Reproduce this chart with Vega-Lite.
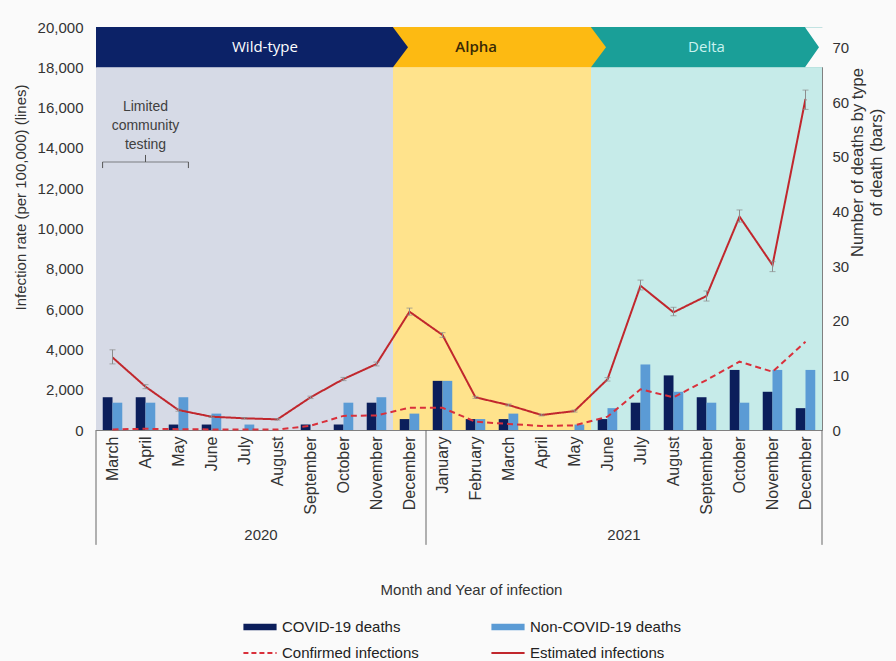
{
  "$schema": "https://vega.github.io/schema/vega-lite/v6.json",
  "width": 726,
  "height": 403,
  "autosize": {"type": "none"},
  "padding": {"left": 96, "top": 27, "right": 74, "bottom": 231},
  "background": "#fafafa",
  "config": {
    "view": {"stroke": null},
    "font": "Liberation Sans",
    "axis": {"labelFont": "Liberation Sans", "titleFont": "Liberation Sans", "labelColor": "#333333", "titleColor": "#333333", "titleFontWeight": "normal", "grid": false, "ticks": false, "domainColor": "#808080", "zindex": 1}
  },
  "datasets": {
    "months": [
      {"period": "March 2020", "variant": "Wild-type", "lo": 3280, "hi": 3980},
      {"period": "April 2020", "variant": "Wild-type", "lo": 2050, "hi": 2250},
      {"period": "May 2020", "variant": "Wild-type", "lo": 930, "hi": 1050},
      {"period": "June 2020", "variant": "Wild-type", "lo": 620, "hi": 700},
      {"period": "July 2020", "variant": "Wild-type", "lo": 540, "hi": 620},
      {"period": "August 2020", "variant": "Wild-type", "lo": 490, "hi": 570},
      {"period": "September 2020", "variant": "Wild-type", "lo": 1560, "hi": 1680},
      {"period": "October 2020", "variant": "Wild-type", "lo": 2450, "hi": 2610},
      {"period": "November 2020", "variant": "Wild-type", "lo": 3180, "hi": 3370},
      {"period": "December 2020", "variant": "Alpha", "lo": 5700, "hi": 6050},
      {"period": "January 2021", "variant": "Alpha", "lo": 4600, "hi": 4830},
      {"period": "February 2021", "variant": "Alpha", "lo": 1570, "hi": 1670},
      {"period": "March 2021", "variant": "Alpha", "lo": 1190, "hi": 1290},
      {"period": "April 2021", "variant": "Alpha", "lo": 700, "hi": 790},
      {"period": "May 2021", "variant": "Alpha", "lo": 890, "hi": 990},
      {"period": "June 2021", "variant": "Delta", "lo": 2430, "hi": 2600},
      {"period": "July 2021", "variant": "Delta", "lo": 6950, "hi": 7440},
      {"period": "August 2021", "variant": "Delta", "lo": 5670, "hi": 6090},
      {"period": "September 2021", "variant": "Delta", "lo": 6400, "hi": 6900},
      {"period": "October 2021", "variant": "Delta", "lo": 10320, "hi": 10920},
      {"period": "November 2021", "variant": "Delta", "lo": 7860, "hi": 8350},
      {"period": "December 2021", "variant": "Delta", "lo": 15910, "hi": 16870}
    ],
    "lines": [
      {"period": "March 2020", "type": "Estimated infections", "rate": 3600},
      {"period": "April 2020", "type": "Estimated infections", "rate": 2150},
      {"period": "May 2020", "type": "Estimated infections", "rate": 990},
      {"period": "June 2020", "type": "Estimated infections", "rate": 660},
      {"period": "July 2020", "type": "Estimated infections", "rate": 580},
      {"period": "August 2020", "type": "Estimated infections", "rate": 530},
      {"period": "September 2020", "type": "Estimated infections", "rate": 1620},
      {"period": "October 2020", "type": "Estimated infections", "rate": 2530},
      {"period": "November 2020", "type": "Estimated infections", "rate": 3275},
      {"period": "December 2020", "type": "Estimated infections", "rate": 5870},
      {"period": "January 2021", "type": "Estimated infections", "rate": 4715},
      {"period": "February 2021", "type": "Estimated infections", "rate": 1620},
      {"period": "March 2021", "type": "Estimated infections", "rate": 1240},
      {"period": "April 2021", "type": "Estimated infections", "rate": 745},
      {"period": "May 2021", "type": "Estimated infections", "rate": 940},
      {"period": "June 2021", "type": "Estimated infections", "rate": 2515},
      {"period": "July 2021", "type": "Estimated infections", "rate": 7160},
      {"period": "August 2021", "type": "Estimated infections", "rate": 5840},
      {"period": "September 2021", "type": "Estimated infections", "rate": 6650},
      {"period": "October 2021", "type": "Estimated infections", "rate": 10590},
      {"period": "November 2021", "type": "Estimated infections", "rate": 8190},
      {"period": "December 2021", "type": "Estimated infections", "rate": 16430},
      {"period": "March 2020", "type": "Confirmed infections", "rate": 30},
      {"period": "April 2020", "type": "Confirmed infections", "rate": 60},
      {"period": "May 2020", "type": "Confirmed infections", "rate": 40},
      {"period": "June 2020", "type": "Confirmed infections", "rate": 30},
      {"period": "July 2020", "type": "Confirmed infections", "rate": 20},
      {"period": "August 2020", "type": "Confirmed infections", "rate": 20},
      {"period": "September 2020", "type": "Confirmed infections", "rate": 210},
      {"period": "October 2020", "type": "Confirmed infections", "rate": 700},
      {"period": "November 2020", "type": "Confirmed infections", "rate": 720},
      {"period": "December 2020", "type": "Confirmed infections", "rate": 1110},
      {"period": "January 2021", "type": "Confirmed infections", "rate": 1100},
      {"period": "February 2021", "type": "Confirmed infections", "rate": 410},
      {"period": "March 2021", "type": "Confirmed infections", "rate": 300},
      {"period": "April 2021", "type": "Confirmed infections", "rate": 200},
      {"period": "May 2021", "type": "Confirmed infections", "rate": 230},
      {"period": "June 2021", "type": "Confirmed infections", "rate": 660},
      {"period": "July 2021", "type": "Confirmed infections", "rate": 2020},
      {"period": "August 2021", "type": "Confirmed infections", "rate": 1620},
      {"period": "September 2021", "type": "Confirmed infections", "rate": 2480},
      {"period": "October 2021", "type": "Confirmed infections", "rate": 3390},
      {"period": "November 2021", "type": "Confirmed infections", "rate": 2890},
      {"period": "December 2021", "type": "Confirmed infections", "rate": 4380}
    ],
    "deaths": [
      {"period": "March 2020", "type": "COVID-19 deaths", "n": 6},
      {"period": "March 2020", "type": "Non-COVID-19 deaths", "n": 5},
      {"period": "April 2020", "type": "COVID-19 deaths", "n": 6},
      {"period": "April 2020", "type": "Non-COVID-19 deaths", "n": 5},
      {"period": "May 2020", "type": "COVID-19 deaths", "n": 1},
      {"period": "May 2020", "type": "Non-COVID-19 deaths", "n": 6},
      {"period": "June 2020", "type": "COVID-19 deaths", "n": 1},
      {"period": "June 2020", "type": "Non-COVID-19 deaths", "n": 3},
      {"period": "July 2020", "type": "COVID-19 deaths", "n": 0},
      {"period": "July 2020", "type": "Non-COVID-19 deaths", "n": 1},
      {"period": "August 2020", "type": "COVID-19 deaths", "n": 0},
      {"period": "August 2020", "type": "Non-COVID-19 deaths", "n": 0},
      {"period": "September 2020", "type": "COVID-19 deaths", "n": 1},
      {"period": "September 2020", "type": "Non-COVID-19 deaths", "n": 0},
      {"period": "October 2020", "type": "COVID-19 deaths", "n": 1},
      {"period": "October 2020", "type": "Non-COVID-19 deaths", "n": 5},
      {"period": "November 2020", "type": "COVID-19 deaths", "n": 5},
      {"period": "November 2020", "type": "Non-COVID-19 deaths", "n": 6},
      {"period": "December 2020", "type": "COVID-19 deaths", "n": 2},
      {"period": "December 2020", "type": "Non-COVID-19 deaths", "n": 3},
      {"period": "January 2021", "type": "COVID-19 deaths", "n": 9},
      {"period": "January 2021", "type": "Non-COVID-19 deaths", "n": 9},
      {"period": "February 2021", "type": "COVID-19 deaths", "n": 2},
      {"period": "February 2021", "type": "Non-COVID-19 deaths", "n": 2},
      {"period": "March 2021", "type": "COVID-19 deaths", "n": 2},
      {"period": "March 2021", "type": "Non-COVID-19 deaths", "n": 3},
      {"period": "April 2021", "type": "COVID-19 deaths", "n": 0},
      {"period": "April 2021", "type": "Non-COVID-19 deaths", "n": 0},
      {"period": "May 2021", "type": "COVID-19 deaths", "n": 0},
      {"period": "May 2021", "type": "Non-COVID-19 deaths", "n": 1},
      {"period": "June 2021", "type": "COVID-19 deaths", "n": 2},
      {"period": "June 2021", "type": "Non-COVID-19 deaths", "n": 4},
      {"period": "July 2021", "type": "COVID-19 deaths", "n": 5},
      {"period": "July 2021", "type": "Non-COVID-19 deaths", "n": 12},
      {"period": "August 2021", "type": "COVID-19 deaths", "n": 10},
      {"period": "August 2021", "type": "Non-COVID-19 deaths", "n": 7},
      {"period": "September 2021", "type": "COVID-19 deaths", "n": 6},
      {"period": "September 2021", "type": "Non-COVID-19 deaths", "n": 5},
      {"period": "October 2021", "type": "COVID-19 deaths", "n": 11},
      {"period": "October 2021", "type": "Non-COVID-19 deaths", "n": 5},
      {"period": "November 2021", "type": "COVID-19 deaths", "n": 7},
      {"period": "November 2021", "type": "Non-COVID-19 deaths", "n": 11},
      {"period": "December 2021", "type": "COVID-19 deaths", "n": 4},
      {"period": "December 2021", "type": "Non-COVID-19 deaths", "n": 11}
    ]
  },
  "layer": [
    {
      "layer": [
        {
          "data": {"name": "months"},
          "mark": {"type": "bar"},
          "encoding": {
            "x": {"field": "period", "type": "ordinal", "scale": {"domain": ["March 2020","April 2020","May 2020","June 2020","July 2020","August 2020","September 2020","October 2020","November 2020","December 2020","January 2021","February 2021","March 2021","April 2021","May 2021","June 2021","July 2021","August 2021","September 2021","October 2021","November 2021","December 2021"], "paddingInner": 0, "paddingOuter": 0},
              "axis": {"orient": "bottom", "labelAngle": 270, "labelAlign": "right", "labelBaseline": "middle", "labelPadding": 6, "labelFontSize": 16, "labelOverlap": false, "labelExpr": "split(datum.label, ' ')[0]", "title": "Month and Year of infection", "titleFontSize": 15, "titleX": 375, "titleY": 152, "ticks": false}},
            "y": {"datum": 0, "type": "quantitative", "stack": null, "scale": {"domain": [0, 20000], "nice": false},
              "axis": {"orient": "left", "values": [0,2000,4000,6000,8000,10000,12000,14000,16000,18000,20000], "labelExpr": "format(datum.value, ',')", "labelFontSize": 15, "labelPadding": 13, "title": "Infection rate (per 100,000) (lines)", "titleFontSize": 15, "titleAngle": 270, "titleBaseline": "middle", "titleX": -76, "titleY": 170}},
            "y2": {"datum": 18000},
            "fill": {"field": "variant", "type": "nominal", "scale": {"domain": ["Wild-type", "Alpha", "Delta"], "range": ["#d6dae6", "#ffe38c", "#c6ebe9"]}, "legend": null}
          }
        },
        {
          "data": {"name": "months"},
          "mark": {"type": "bar"},
          "encoding": {
            "x": {"field": "period", "type": "ordinal", "scale": {"domain": ["March 2020","April 2020","May 2020","June 2020","July 2020","August 2020","September 2020","October 2020","November 2020","December 2020","January 2021","February 2021","March 2021","April 2021","May 2021","June 2021","July 2021","August 2021","September 2021","October 2021","November 2021","December 2021"], "paddingInner": 0, "paddingOuter": 0}},
            "y": {"datum": 18000, "type": "quantitative", "stack": null, "scale": {"domain": [0, 20000], "nice": false}},
            "y2": {"datum": 20000},
            "fill": {"field": "variant", "type": "nominal", "scale": {"domain": ["Wild-type", "Alpha", "Delta"], "range": ["#0c2267", "#fdba12", "#1a9f98"]}, "legend": null}
          }
        },
        {
          "data": {"values": [{"period": "December 2020", "variant": "Wild-type"}, {"period": "June 2021", "variant": "Alpha"}]},
          "mark": {"type": "point", "shape": "M0,-1L0.75,0L0,1Z", "filled": true, "size": 1600, "opacity": 1, "strokeWidth": 0},
          "encoding": {
            "x": {"field": "period", "type": "ordinal", "bandPosition": 0, "scale": {"domain": ["March 2020","April 2020","May 2020","June 2020","July 2020","August 2020","September 2020","October 2020","November 2020","December 2020","January 2021","February 2021","March 2021","April 2021","May 2021","June 2021","July 2021","August 2021","September 2021","October 2021","November 2021","December 2021"], "paddingInner": 0, "paddingOuter": 0}},
            "y": {"datum": 19000, "type": "quantitative", "scale": {"domain": [0, 20000], "nice": false}},
            "fill": {"field": "variant", "type": "nominal", "scale": {"domain": ["Wild-type", "Alpha", "Delta"], "range": ["#0c2267", "#fdba12", "#1a9f98"]}, "legend": null}
          }
        },
        {
          "data": {"values": [{"period": "December 2021"}]},
          "mark": {"type": "point", "shape": "M-0.85,-1L0.2,-1L0.2,1L-0.85,1L-0.15,0Z", "filled": true, "size": 1600, "opacity": 1, "strokeWidth": 0, "color": "#fafafa"},
          "encoding": {
            "x": {"field": "period", "type": "ordinal", "bandPosition": 1, "scale": {"domain": ["March 2020","April 2020","May 2020","June 2020","July 2020","August 2020","September 2020","October 2020","November 2020","December 2020","January 2021","February 2021","March 2021","April 2021","May 2021","June 2021","July 2021","August 2021","September 2021","October 2021","November 2021","December 2021"], "paddingInner": 0, "paddingOuter": 0}},
            "y": {"datum": 19000, "type": "quantitative", "scale": {"domain": [0, 20000], "nice": false}}
          }
        },
        {
          "data": {"values": [{"period": "August 2020"}]},
          "mark": {"type": "text", "font": "Open Sans", "fontSize": 15, "fontWeight": "normal", "color": "#ffffff", "baseline": "middle"},
          "encoding": {
            "x": {"field": "period", "type": "ordinal", "bandPosition": 0.12, "scale": {"domain": ["March 2020","April 2020","May 2020","June 2020","July 2020","August 2020","September 2020","October 2020","November 2020","December 2020","January 2021","February 2021","March 2021","April 2021","May 2021","June 2021","July 2021","August 2021","September 2021","October 2021","November 2021","December 2021"], "paddingInner": 0, "paddingOuter": 0}},
            "y": {"datum": 19000, "type": "quantitative", "scale": {"domain": [0, 20000], "nice": false}},
            "text": {"value": "Wild-type"}
          }
        },
        {
          "data": {"values": [{"period": "February 2021"}]},
          "mark": {"type": "text", "font": "Open Sans", "fontSize": 15, "fontWeight": 600, "color": "#3a2a05", "baseline": "middle"},
          "encoding": {
            "x": {"field": "period", "type": "ordinal", "bandPosition": 0.52, "scale": {"domain": ["March 2020","April 2020","May 2020","June 2020","July 2020","August 2020","September 2020","October 2020","November 2020","December 2020","January 2021","February 2021","March 2021","April 2021","May 2021","June 2021","July 2021","August 2021","September 2021","October 2021","November 2021","December 2021"], "paddingInner": 0, "paddingOuter": 0}},
            "y": {"datum": 19000, "type": "quantitative", "scale": {"domain": [0, 20000], "nice": false}},
            "text": {"value": "Alpha"}
          }
        },
        {
          "data": {"values": [{"period": "September 2021"}]},
          "mark": {"type": "text", "font": "Open Sans", "fontSize": 15, "fontWeight": "normal", "color": "#c9f2ef", "baseline": "middle"},
          "encoding": {
            "x": {"field": "period", "type": "ordinal", "bandPosition": 0.5, "scale": {"domain": ["March 2020","April 2020","May 2020","June 2020","July 2020","August 2020","September 2020","October 2020","November 2020","December 2020","January 2021","February 2021","March 2021","April 2021","May 2021","June 2021","July 2021","August 2021","September 2021","October 2021","November 2021","December 2021"], "paddingInner": 0, "paddingOuter": 0}},
            "y": {"datum": 19000, "type": "quantitative", "scale": {"domain": [0, 20000], "nice": false}},
            "text": {"value": "Delta"}
          }
        }
      ],
      "resolve": {"scale": {"fill": "independent"}}
    },
    {
      "data": {"name": "deaths"},
      "mark": {"type": "bar"},
      "encoding": {
        "x": {"field": "period", "type": "ordinal", "scale": {"domain": ["March 2020","April 2020","May 2020","June 2020","July 2020","August 2020","September 2020","October 2020","November 2020","December 2020","January 2021","February 2021","March 2021","April 2021","May 2021","June 2021","July 2021","August 2021","September 2021","October 2021","November 2021","December 2021"], "paddingInner": 0, "paddingOuter": 0}},
        "xOffset": {"field": "type", "type": "nominal", "scale": {"domain": ["COVID-19 deaths", "Non-COVID-19 deaths"], "paddingInner": 0, "paddingOuter": 0.69}},
        "y": {"field": "n", "type": "quantitative", "stack": null, "scale": {"domain": [0, 73.8], "nice": false},
          "axis": {"orient": "right", "values": [0,10,20,30,40,50,60,70], "labelFontSize": 15, "labelPadding": 10, "title": ["Number of deaths by type", "of death (bars)"], "titleFontSize": 16.5, "titleAngle": 270, "titleBaseline": "middle", "titleX": 35, "titleY": 135, "titleLineHeight": 19}},
        "color": {"field": "type", "type": "nominal",
          "scale": {"domain": ["COVID-19 deaths", "Non-COVID-19 deaths", "Confirmed infections", "Estimated infections"], "range": ["#0b1e5b", "#5b9bd5", "#d9303b", "#c1272d"]},
          "legend": {"orient": "none", "direction": "horizontal", "legendX": 146, "legendY": 582, "columns": 2, "columnPadding": 68, "rowPadding": -2, "title": null, "padding": 0,
            "labelFontSize": 15, "labelFont": "Liberation Sans", "labelColor": "#222222", "labelOffset": 4, "labelLimit": 300, "symbolSize": 1100, "symbolStrokeWidth": 2,
            "encode": {"symbols": {"update": {
              "shape": {"signal": "(datum.value === 'COVID-19 deaths' || datum.value === 'Non-COVID-19 deaths') ? 'M-1,-0.2H1V0.2H-1Z' : 'stroke'"},
              "fill": {"signal": "datum.value === 'COVID-19 deaths' ? '#0b1e5b' : datum.value === 'Non-COVID-19 deaths' ? '#5b9bd5' : 'transparent'"},
              "stroke": {"signal": "datum.value === 'Confirmed infections' ? '#d9303b' : datum.value === 'Estimated infections' ? '#c1272d' : 'transparent'"},
              "strokeDash": {"signal": "datum.value === 'Confirmed infections' ? [5, 3] : []"},
              "strokeWidth": {"value": 2},
              "opacity": {"value": 1}
            }}}}
        }
      }
    },
    {
      "layer": [
        {
          "data": {"name": "lines"},
          "mark": {"type": "line", "strokeWidth": 2},
          "encoding": {
            "x": {"field": "period", "type": "ordinal", "scale": {"domain": ["March 2020","April 2020","May 2020","June 2020","July 2020","August 2020","September 2020","October 2020","November 2020","December 2020","January 2021","February 2021","March 2021","April 2021","May 2021","June 2021","July 2021","August 2021","September 2021","October 2021","November 2021","December 2021"], "paddingInner": 0, "paddingOuter": 0}},
            "y": {"field": "rate", "type": "quantitative", "scale": {"domain": [0, 20000], "nice": false}, "axis": null},
            "color": {"field": "type", "type": "nominal", "scale": {"domain": ["Confirmed infections", "Estimated infections"], "range": ["#d9303b", "#c1272d"]}, "legend": null},
            "strokeDash": {"field": "type", "type": "nominal", "scale": {"domain": ["Confirmed infections", "Estimated infections"], "range": [[6, 4], [1, 0]]}, "legend": null},
            "order": {"value": null}
          }
        },
        {
          "data": {"name": "months"},
          "mark": {"type": "errorbar", "ticks": {"size": 6}, "color": "#8c8c8c"},
          "encoding": {
            "x": {"field": "period", "type": "ordinal", "scale": {"domain": ["March 2020","April 2020","May 2020","June 2020","July 2020","August 2020","September 2020","October 2020","November 2020","December 2020","January 2021","February 2021","March 2021","April 2021","May 2021","June 2021","July 2021","August 2021","September 2021","October 2021","November 2021","December 2021"], "paddingInner": 0, "paddingOuter": 0}},
            "y": {"field": "lo", "type": "quantitative", "scale": {"domain": [0, 20000], "nice": false}, "axis": null},
            "y2": {"field": "hi"}
          }
        },
        {
          "data": {"values": [{"period": "April 2020"}]},
          "mark": {"type": "text", "fontSize": 14, "color": "#404040", "baseline": "middle", "lineHeight": 19},
          "encoding": {
            "x": {"field": "period", "type": "ordinal", "scale": {"domain": ["March 2020","April 2020","May 2020","June 2020","July 2020","August 2020","September 2020","October 2020","November 2020","December 2020","January 2021","February 2021","March 2021","April 2021","May 2021","June 2021","July 2021","August 2021","September 2021","October 2021","November 2021","December 2021"], "paddingInner": 0, "paddingOuter": 0}},
            "y": {"datum": 16030, "type": "quantitative", "scale": {"domain": [0, 20000], "nice": false}, "axis": null},
            "text": {"value": ["Limited", "community", "testing"]}
          }
        },
        {
          "data": {"values": [{"period": "April 2020"}]},
          "mark": {"type": "tick", "orient": "horizontal", "size": 86, "thickness": 1, "color": "#555555"},
          "encoding": {
            "x": {"field": "period", "type": "ordinal", "scale": {"domain": ["March 2020","April 2020","May 2020","June 2020","July 2020","August 2020","September 2020","October 2020","November 2020","December 2020","January 2021","February 2021","March 2021","April 2021","May 2021","June 2021","July 2021","August 2021","September 2021","October 2021","November 2021","December 2021"], "paddingInner": 0, "paddingOuter": 0}},
            "y": {"datum": 13300, "type": "quantitative", "scale": {"domain": [0, 20000], "nice": false}, "axis": null}
          }
        },
        {
          "data": {"values": [{"period": "April 2020"}]},
          "mark": {"type": "rule", "strokeWidth": 1, "color": "#555555"},
          "encoding": {
            "x": {"field": "period", "type": "ordinal", "scale": {"domain": ["March 2020","April 2020","May 2020","June 2020","July 2020","August 2020","September 2020","October 2020","November 2020","December 2020","January 2021","February 2021","March 2021","April 2021","May 2021","June 2021","July 2021","August 2021","September 2021","October 2021","November 2021","December 2021"], "paddingInner": 0, "paddingOuter": 0}},
            "y": {"datum": 13300, "type": "quantitative", "scale": {"domain": [0, 20000], "nice": false}, "axis": null},
            "y2": {"datum": 13650}
          }
        },
        {
          "data": {"values": [{"period": "March 2020"}]},
          "mark": {"type": "rule", "strokeWidth": 1, "color": "#555555"},
          "encoding": {
            "x": {"field": "period", "type": "ordinal", "bandPosition": 0.2, "scale": {"domain": ["March 2020","April 2020","May 2020","June 2020","July 2020","August 2020","September 2020","October 2020","November 2020","December 2020","January 2021","February 2021","March 2021","April 2021","May 2021","June 2021","July 2021","August 2021","September 2021","October 2021","November 2021","December 2021"], "paddingInner": 0, "paddingOuter": 0}},
            "y": {"datum": 13000, "type": "quantitative", "scale": {"domain": [0, 20000], "nice": false}, "axis": null},
            "y2": {"datum": 13300}
          }
        },
        {
          "data": {"values": [{"period": "May 2020"}]},
          "mark": {"type": "rule", "strokeWidth": 1, "color": "#555555"},
          "encoding": {
            "x": {"field": "period", "type": "ordinal", "bandPosition": 0.8, "scale": {"domain": ["March 2020","April 2020","May 2020","June 2020","July 2020","August 2020","September 2020","October 2020","November 2020","December 2020","January 2021","February 2021","March 2021","April 2021","May 2021","June 2021","July 2021","August 2021","September 2021","October 2021","November 2021","December 2021"], "paddingInner": 0, "paddingOuter": 0}},
            "y": {"datum": 13000, "type": "quantitative", "scale": {"domain": [0, 20000], "nice": false}, "axis": null},
            "y2": {"datum": 13300}
          }
        },
        {
          "data": {"values": [{"period": "March 2020"}, {"period": "January 2021"}]},
          "mark": {"type": "rule", "strokeWidth": 1, "color": "#666666"},
          "encoding": {
            "x": {"field": "period", "type": "ordinal", "bandPosition": 0, "scale": {"domain": ["March 2020","April 2020","May 2020","June 2020","July 2020","August 2020","September 2020","October 2020","November 2020","December 2020","January 2021","February 2021","March 2021","April 2021","May 2021","June 2021","July 2021","August 2021","September 2021","October 2021","November 2021","December 2021"], "paddingInner": 0, "paddingOuter": 0}},
            "y": {"datum": 0, "type": "quantitative", "scale": {"domain": [0, 20000], "nice": false}, "axis": null},
            "y2": {"datum": -5700}
          }
        },
        {
          "data": {"values": [{"period": "December 2021"}]},
          "mark": {"type": "rule", "strokeWidth": 1, "color": "#666666"},
          "encoding": {
            "x": {"field": "period", "type": "ordinal", "bandPosition": 1, "scale": {"domain": ["March 2020","April 2020","May 2020","June 2020","July 2020","August 2020","September 2020","October 2020","November 2020","December 2020","January 2021","February 2021","March 2021","April 2021","May 2021","June 2021","July 2021","August 2021","September 2021","October 2021","November 2021","December 2021"], "paddingInner": 0, "paddingOuter": 0}},
            "y": {"datum": 0, "type": "quantitative", "scale": {"domain": [0, 20000], "nice": false}, "axis": null},
            "y2": {"datum": -5700}
          }
        },
        {
          "data": {"values": [{"period": "July 2020", "year": "2020"}, {"period": "June 2021", "year": "2021"}]},
          "mark": {"type": "text", "fontSize": 15, "color": "#333333", "baseline": "middle"},
          "encoding": {
            "x": {"field": "period", "type": "ordinal", "bandPosition": 1, "scale": {"domain": ["March 2020","April 2020","May 2020","June 2020","July 2020","August 2020","September 2020","October 2020","November 2020","December 2020","January 2021","February 2021","March 2021","April 2021","May 2021","June 2021","July 2021","August 2021","September 2021","October 2021","November 2021","December 2021"], "paddingInner": 0, "paddingOuter": 0}},
            "y": {"datum": -5200, "type": "quantitative", "scale": {"domain": [0, 20000], "nice": false}, "axis": null},
            "text": {"field": "year"}
          }
        }
      ]
    }
  ],
  "resolve": {"scale": {"y": "independent", "color": "independent"}, "axis": {"y": "independent"}}
}
